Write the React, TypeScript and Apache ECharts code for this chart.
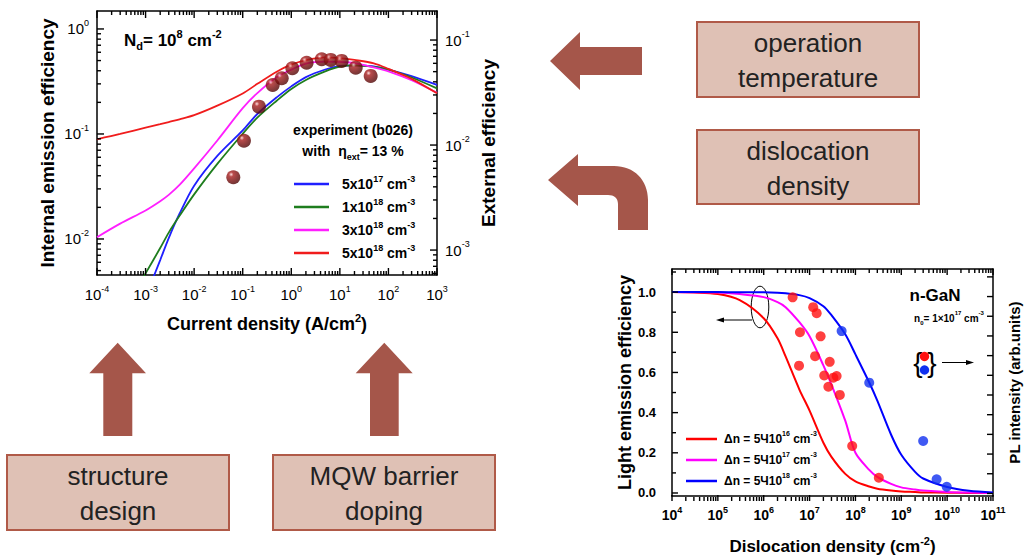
import React, { useEffect, useRef } from 'react';
import * as echarts from 'echarts';

const FONT = '"Liberation Sans", Arial, Helvetica, sans-serif';

// ---------- Chart 1: internal emission efficiency vs current density ----------
const currentDensity = [1e-4, 3e-4, 1e-3, 2e-3, 3e-3, 5e-3, 1e-2, 3e-2, 0.1, 0.2, 0.5, 1, 2, 5, 10, 20, 50, 100, 300, 1000];
const eta5e17 = [null, 0.0007, 0.0028, 0.0063, 0.0102, 0.0174, 0.0322, 0.0618, 0.108, 0.155, 0.223, 0.284, 0.348, 0.411, 0.444, 0.45, 0.44, 0.41, 0.355, 0.293];
const eta1e18 = [null, 0.0018, 0.0047, 0.0082, 0.0115, 0.0166, 0.0266, 0.0519, 0.1005, 0.143, 0.207, 0.268, 0.327, 0.394, 0.437, 0.45, 0.435, 0.41, 0.345, 0.272];
const eta3e18 = [0.0104, 0.014, 0.0187, 0.0229, 0.0263, 0.0327, 0.047, 0.0867, 0.176, 0.245, 0.347, 0.41, 0.468, 0.488, 0.485, 0.473, 0.43, 0.395, 0.325, 0.247];
const eta5e18 = [0.089, 0.1, 0.115, 0.124, 0.13, 0.138, 0.151, 0.186, 0.243, 0.3, 0.392, 0.457, 0.505, 0.537, 0.528, 0.507, 0.471, 0.417, 0.335, 0.244];
const expCurrent = [0.064, 0.106, 0.216, 0.414, 0.635, 1.05, 2.07, 4.23, 6.48, 10.9, 21.2, 43.1];
const expEta = [0.0387, 0.0863, 0.182, 0.293, 0.339, 0.422, 0.477, 0.514, 0.507, 0.496, 0.428, 0.357];
const chart1Names = ['5x10^17 cm^-3', '1x10^18 cm^-3', '3x10^18 cm^-3', '5x10^18 cm^-3'];
const chart1Colors = ['#1f1fff', '#1e7d1e', '#ff1fff', '#f01c1c'];

// ---------- Chart 2: light emission efficiency vs dislocation density ----------
const dislocation = [1e4, 3e4, 1e5, 3e5, 1e6, 2e6, 3e6, 6e6, 1e7, 2e7, 3e7, 6e7, 1e8, 2e8, 3e8, 6e8, 1e9, 2e9, 3e9, 1e10, 3e10, 1e11];
const eff5e16 = [1.0, 0.998, 0.99, 0.96, 0.87, 0.77, 0.68, 0.515, 0.41, 0.25, 0.18, 0.095, 0.058, 0.032, 0.021, 0.012, 0.008, 0.005, 0.003, 0.001, 0.0005, 0];
const eff5e17 = [1.0, 0.999, 0.998, 0.99, 0.975, 0.95, 0.925, 0.85, 0.78, 0.635, 0.54, 0.36, 0.2, 0.115, 0.08, 0.045, 0.028, 0.017, 0.012, 0.005, 0.002, 0];
const eff5e18 = [1.0, 1.0, 1.0, 0.9995, 0.999, 0.997, 0.994, 0.985, 0.97, 0.93, 0.885, 0.79, 0.69, 0.55, 0.46, 0.29, 0.19, 0.105, 0.072, 0.03, 0.011, 0.003];
const plRedD = [4.27e6, 1.2e7, 1.43e7, 6.17e6, 1.74e7, 1.32e7, 5.89e6, 2.75e7, 2.09e7, 3.31e7, 3.89e7, 2.57e7, 4.57e7, 8.5e7, 3.24e8];
const plRedV = [0.974, 0.925, 0.895, 0.8, 0.78, 0.681, 0.634, 0.653, 0.585, 0.574, 0.582, 0.529, 0.488, 0.234, 0.076];
const plBlueD = [5.0e7, 2.0e8, 3.0e9, 5.9e9, 9.8e9];
const plBlueV = [0.806, 0.549, 0.259, 0.068, 0.031];
const chart2Names = ['Δn = 5Ч10^16 cm^-3', 'Δn = 5Ч10^17 cm^-3', 'Δn = 5Ч10^18 cm^-3'];
const chart2Colors = ['#ff0000', '#ff00ff', '#0000ff'];

// tick positions
const effMajorTicks = [0, 0.2, 0.4, 0.6, 0.8, 1.0];
const effMinorTicks = [0.1, 0.3, 0.5, 0.7, 0.9, 1.1];
const plTicks = [0, 0.1, 0.2, 0.3, 0.4, 0.5, 0.6, 0.7, 0.8, 0.9, 1.0, 1.1];

const ARROW = '#a5564a';
const BOX_FILL = '#dfc1b5';
const BOX_STROKE = '#b05a48';

const G1 = { left: 97, top: 11, width: 340, height: 264 };
const G2 = { left: 672, top: 269, width: 321, height: 232 };

echarts.graphic.registerShape(
  'curvedArrow',
  echarts.graphic.extendPath(
    'M548 180 L578 154 L578 166 L614 166 C634 166 648 180 648 200 L648 230 L618 230 L618 204 C618 198 614 195 608 195 L578 195 L578 206 Z',
    {}
  )
);

function rich(size: number, weight: string, color = '#000') {
  const s = Math.round(size * 0.62);
  return {
    b: { fontSize: size, fontWeight: weight, fontFamily: FONT, color, lineHeight: size + 6 },
    sup: { fontSize: s, fontWeight: weight, fontFamily: FONT, color, verticalAlign: 'top', lineHeight: s },
    sub: { fontSize: s, fontWeight: weight, fontFamily: FONT, color, verticalAlign: 'bottom', lineHeight: s },
  };
}

function toRich(t: string) {
  return t
    .split(/(\^-?\d+)/)
    .filter((p) => p.length > 0)
    .map((p) => (p.startsWith('^') ? `{sup|${p.slice(1)}}` : `{b|${p}}`))
    .join('');
}

function logFmt(v: number) {
  const e = Math.log10(v);
  const r = Math.round(e);
  if (Math.abs(e - r) > 1e-6) return '';
  return `{b|10}{sup|${r}}`;
}

function logTicks(lo: number, hi: number) {
  const out: number[][] = [];
  for (let e = Math.floor(Math.log10(lo)); e <= Math.ceil(Math.log10(hi)); e++) {
    for (let k = 1; k <= 9; k++) {
      const v = k * Math.pow(10, e);
      if (v < lo * 0.9999 || v > hi * 1.0001) continue;
      out.push([v, k === 1 ? 1 : 0]);
    }
  }
  return out;
}

const axisLine = () => ({ show: true, onZero: false, lineStyle: { color: '#000', width: 1.5 } });

const Y1MIN = Math.pow(10, -2.343);
const Y1MAX = Math.pow(10, 0.171);
const EXT = 0.1275;

export default function App() {
  const ref = useRef<HTMLDivElement>(null);
  useEffect(() => {
    if (!ref.current) return;
    const chart = echarts.init(ref.current, undefined, { renderer: 'svg' });

    const lineCommon = { symbol: 'none', smooth: 0.3, z: 3 };
    const c1Series = [eta5e17, eta1e18, eta3e18, eta5e18].map((arr, i) => ({
      name: chart1Names[i], type: 'line', xAxisIndex: 0, yAxisIndex: 0, ...lineCommon,
      lineStyle: { color: chart1Colors[i], width: 1.8 }, itemStyle: { color: chart1Colors[i] },
      data: currentDensity.map((j, k) => [j, arr[k]]).filter((d) => d[1] !== null),
    }));
    const c2Series = [eff5e16, eff5e17, eff5e18].map((arr, i) => ({
      name: chart2Names[i], type: 'line', xAxisIndex: 2, yAxisIndex: 2, ...lineCommon,
      lineStyle: { color: chart2Colors[i], width: 2 }, itemStyle: { color: chart2Colors[i] },
      data: dislocation.map((d, k) => [d, arr[k]]),
    }));

    const sphere = new echarts.graphic.RadialGradient(0.35, 0.3, 0.75, [
      { offset: 0, color: '#ffd8d8' },
      { offset: 0.22, color: '#a81e1e' },
      { offset: 0.7, color: '#6e0b0b' },
      { offset: 1, color: '#4a0404' },
    ]);

    const r15 = rich(15, 'normal');
    const r18b = rich(18, 'bold');
    const r17b = rich(17, 'bold');
    const r14b = rich(14, 'bold');
    const r12b = rich(12, 'bold');

    const boxText = (x: number, y: number, w: number, h: number, text: string) => ({
      type: 'group',
      children: [
        { type: 'rect', shape: { x, y, width: w, height: h }, style: { fill: BOX_FILL, stroke: BOX_STROKE, lineWidth: 2 } },
        {
          type: 'text', x: x + w / 2, y: y + h / 2 + 1,
          style: { text, fill: '#222', font: `26px ${FONT}`, lineHeight: 35, textAlign: 'center', textVerticalAlign: 'middle' },
        },
      ],
    });

    const nameStyle = (size: number) => ({ fontSize: size, fontWeight: 'bold', fontFamily: FONT, color: '#000' });
    const noTick = { show: false };

    const baseElements: any[] = [
      { type: 'text', x: 124, y: 40, style: { text: '{b|N}{sub|d}{b|= 10}{sup|8}{b| cm}{sup|-2}', rich: r17b, textVerticalAlign: 'middle' } },
      { type: 'text', x: 353, y: 130, style: { text: '{b|experiment (b026)}', rich: rich(14, 'bold', '#7b1c1c'), textAlign: 'center', textVerticalAlign: 'middle' } },
      { type: 'text', x: 353, y: 151, style: { text: '{b|with  η}{sub|ext}{b|= 13 %}', rich: rich(14, 'bold', '#7b1c1c'), textAlign: 'center', textVerticalAlign: 'middle' } },
      { type: 'text', x: 935, y: 295, style: { text: 'n-GaN', font: `bold 17px ${FONT}`, fill: '#000', textAlign: 'center', textVerticalAlign: 'middle' } },
      { type: 'text', x: 949, y: 318, style: { text: '{b|n}{sub|0}{b|= 1×10}{sup|17}{b| cm}{sup|-3}', rich: rich(10, 'bold'), textAlign: 'center', textVerticalAlign: 'middle' } },
      { type: 'ellipse', shape: { cx: 760, cy: 307, rx: 8.8, ry: 20.8 }, style: { fill: 'none', stroke: '#000', lineWidth: 1 } },
      { type: 'line', shape: { x1: 752, y1: 320, x2: 720, y2: 320 }, style: { stroke: '#000', lineWidth: 1 } },
      { type: 'polygon', shape: { points: [[716, 320], [724, 317.5], [724, 322.5]] }, style: { fill: '#000' } },
      { type: 'text', x: 918, y: 362, style: { text: '{', font: `28px ${FONT}`, fill: '#000', textAlign: 'center', textVerticalAlign: 'middle' } },
      { type: 'text', x: 932, y: 362, style: { text: '}', font: `28px ${FONT}`, fill: '#000', textAlign: 'center', textVerticalAlign: 'middle' } },
      { type: 'circle', shape: { cx: 924.5, cy: 356.5, r: 4.7 }, style: { fill: '#ff1010' } },
      { type: 'circle', shape: { cx: 924.5, cy: 370, r: 4.7 }, style: { fill: '#1030f0' } },
      { type: 'line', shape: { x1: 942, y1: 362.5, x2: 970, y2: 362.5 }, style: { stroke: '#000', lineWidth: 1 } },
      { type: 'polygon', shape: { points: [[974, 362.5], [966, 360], [966, 365]] }, style: { fill: '#000' } },
      { type: 'polygon', shape: { points: [[550, 61], [580, 32], [580, 47], [642, 47], [642, 75], [580, 75], [580, 90]] }, style: { fill: ARROW } },
      { type: 'curvedArrow', x: 0, y: 0, style: { fill: ARROW } },
      { type: 'polygon', shape: { points: [[117.7, 342.7], [146, 373.3], [132.3, 373.3], [132.3, 436], [103.3, 436], [103.3, 373.3], [89.3, 373.3]] }, style: { fill: ARROW } },
      { type: 'polygon', shape: { points: [[384.3, 342.7], [412.7, 373.3], [398.7, 373.3], [398.7, 436], [370, 436], [370, 373.3], [355.7, 373.3]] }, style: { fill: ARROW } },
      boxText(697, 22, 222, 75, 'operation\ntemperature'),
      boxText(697, 130, 222, 74, 'dislocation\ndensity'),
      boxText(7, 455, 222, 75, 'structure\ndesign'),
      boxText(273, 455, 222, 75, 'MQW barrier\ndoping'),
    ];

    const option: any = {
      animation: false,
      backgroundColor: '#fff',
      grid: [G1, G2],
      xAxis: [
        {
          type: 'log', gridIndex: 0, min: 1e-4, max: 1e3, position: 'bottom',
          axisLine: axisLine(), axisTick: noTick, splitLine: { show: false },
          axisLabel: { formatter: logFmt, rich: r15, margin: 9 },
          name: toRich('Current density (A/cm^2)'), nameLocation: 'middle', nameGap: 37,
          nameTextStyle: { rich: r18b },
        },
        {
          type: 'log', gridIndex: 0, min: 1e-4, max: 1e3, position: 'top',
          axisLine: axisLine(), axisTick: noTick, splitLine: { show: false }, axisLabel: { show: false },
        },
        {
          type: 'log', gridIndex: 1, min: 1e4, max: 1e11, position: 'bottom',
          axisLine: axisLine(), axisTick: noTick, splitLine: { show: false },
          axisLabel: { formatter: logFmt, rich: r14b, margin: 9 },
          name: toRich('Dislocation density (cm^-2)'), nameLocation: 'middle', nameGap: 39,
          nameTextStyle: { rich: r17b },
        },
        {
          type: 'log', gridIndex: 1, min: 1e4, max: 1e11, position: 'top',
          axisLine: axisLine(), axisTick: noTick, splitLine: { show: false }, axisLabel: { show: false },
        },
      ],
      yAxis: [
        {
          type: 'log', gridIndex: 0, min: Y1MIN, max: Y1MAX, position: 'left',
          axisLine: axisLine(), axisTick: noTick, splitLine: { show: false },
          axisLabel: { formatter: logFmt, rich: r15, margin: 8 },
          name: 'Internal emission efficiency', nameLocation: 'middle', nameGap: 40, nameRotate: 90,
          nameTextStyle: nameStyle(19),
        },
        {
          type: 'log', gridIndex: 0, min: Y1MIN * EXT, max: Y1MAX * EXT, position: 'right',
          axisLine: axisLine(), axisTick: noTick, splitLine: { show: false },
          axisLabel: { formatter: logFmt, rich: r15, margin: 8 },
          name: 'External efficiency', nameLocation: 'middle', nameGap: 42, nameRotate: 90,
          nameTextStyle: nameStyle(19),
        },
        {
          type: 'value', gridIndex: 1, min: -0.015, max: 1.115, position: 'left', splitNumber: 5,
          axisLine: axisLine(), axisTick: noTick, splitLine: { show: false },
          axisLabel: {
            formatter: (v: number) => (effMajorTicks.some((t) => Math.abs(t - v) < 1e-6) ? v.toFixed(1) : ''),
            fontSize: 13, fontWeight: 'bold', fontFamily: FONT, color: '#000', margin: 16,
          },
          name: 'Light emission efficiency', nameLocation: 'middle', nameGap: 36, nameRotate: 90,
          nameTextStyle: nameStyle(18),
        },
        {
          type: 'value', gridIndex: 1, min: -0.013, max: 1.14, position: 'right', splitNumber: 11,
          axisLine: axisLine(), axisTick: noTick, splitLine: { show: false },
          axisLabel: { show: false },
          name: 'PL intensity (arb.units)', nameLocation: 'middle', nameGap: 14, nameRotate: 90,
          nameTextStyle: nameStyle(15),
        },
      ],
      legend: [
        {
          orient: 'vertical', left: 289, top: 169, itemWidth: 35, itemHeight: 2.5, itemGap: 6,
          selectedMode: false, icon: 'rect',
          data: chart1Names.map((n) => ({ name: n, icon: 'rect' })),
          formatter: (n: string) => toRich(n),
          textStyle: { rich: r14b, padding: [0, 0, 0, 8] },
        },
        {
          orient: 'vertical', left: 681, top: 425, itemWidth: 31, itemHeight: 2.5, itemGap: 6,
          selectedMode: false, icon: 'rect',
          data: chart2Names.map((n) => ({ name: n, icon: 'rect' })),
          formatter: (n: string) => toRich(n),
          textStyle: { rich: r12b, padding: [0, 0, 0, 2] },
        },
      ],
      series: [
        ...c1Series,
        {
          name: 'experiment', type: 'scatter', xAxisIndex: 0, yAxisIndex: 0, symbolSize: 14,
          itemStyle: { color: sphere }, data: expCurrent.map((j, k) => [j, expEta[k]]), z: 5,
        },
        ...c2Series,
        {
          name: 'PL red', type: 'scatter', xAxisIndex: 2, yAxisIndex: 2, symbolSize: 10,
          itemStyle: { color: '#ff1010' }, data: plRedD.map((d, k) => [d, plRedV[k]]), z: 5,
        },
        {
          name: 'PL blue', type: 'scatter', xAxisIndex: 2, yAxisIndex: 2, symbolSize: 10,
          itemStyle: { color: '#1030f0' }, data: plBlueD.map((d, k) => [d, plBlueV[k]]), z: 5,
        },
      ],
      graphic: { elements: baseElements },
    };

    chart.setOption(option);

    // tick marks as thin filled rects, positioned with the axes' own scales
    const tickEls: any[] = [];
    const px = (finder: any, v: number) => chart.convertToPixel(finder, v) as unknown as number;
    const W = 1.4;
    const vTick = (x: number, y: number, len: number) =>
      tickEls.push({ type: 'rect', z: 100, silent: true, shape: { x: x - W / 2, y, width: W, height: len }, style: { fill: '#000' } });
    const hTick = (x: number, y: number, len: number) =>
      tickEls.push({ type: 'rect', z: 100, silent: true, shape: { x, y: y - W / 2, width: len, height: W }, style: { fill: '#000' } });

    logTicks(1e-4, 1e3).forEach(([v, m]) => {
      const x = px({ xAxisIndex: 0 }, v);
      const len = m ? 7 : 4;
      vTick(x, G1.top + G1.height - len, len);
      vTick(x, G1.top, len);
    });
    logTicks(Y1MIN, Y1MAX).forEach(([v, m]) => hTick(G1.left, px({ yAxisIndex: 0 }, v), m ? 7 : 4));
    logTicks(Y1MIN * EXT, Y1MAX * EXT).forEach(([v, m]) => {
      const len = m ? 7 : 4;
      hTick(G1.left + G1.width - len, px({ yAxisIndex: 1 }, v), len);
    });
    logTicks(1e4, 1e11).forEach(([v, m]) => {
      const x = px({ xAxisIndex: 2 }, v);
      const len = m ? 6 : 4;
      vTick(x, G2.top + G2.height - len, len);
      vTick(x, G2.top, len);
    });
    effMajorTicks.map((v) => [v, 1]).concat(effMinorTicks.map((v) => [v, 0])).forEach(([v, m]) =>
      hTick(G2.left, px({ yAxisIndex: 2 }, v), m ? 6 : 4)
    );
    plTicks.forEach((v) => hTick(G2.left + G2.width - 6, px({ yAxisIndex: 3 }, v), 6));

    chart.setOption({ graphic: { elements: baseElements.concat(tickEls) } });
    return () => chart.dispose();
  }, []);

  return <div ref={ref} style={{ position: 'absolute', left: 0, top: 0, width: 1030, height: 556, background: '#fff' }} />;
}
